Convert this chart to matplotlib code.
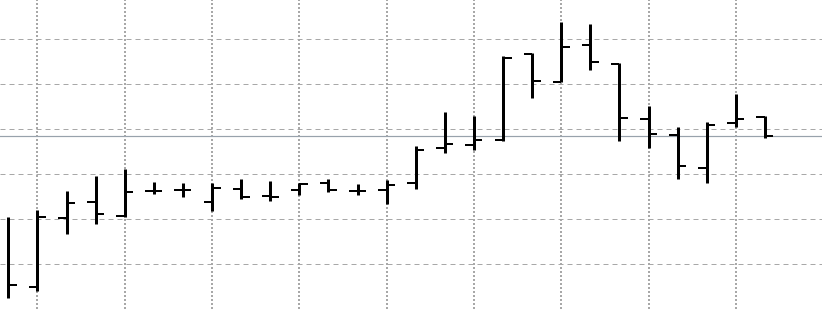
import numpy as np
import matplotlib
matplotlib.use("Agg")
import matplotlib.pyplot as plt

# OHLC data (arbitrary price units)
opens  = [np.nan, 105.0, 120.3, 123.8, 120.7, 126.2, 126.4, 123.7, 126.6, 125.1,
          126.4, 127.9, 126.3, 126.4, 128.1, 135.8, 136.4, 137.6, 156.7, 150.4,
          158.7, 154.4, 142.2, 138.7, 131.4, 141.4, 142.6]
highs  = [120.4, 122.0, 126.2, 129.6, 131.1, 128.2, 127.9, 127.9, 129.0, 128.4,
          127.9, 129.0, 127.7, 128.7, 136.2, 143.8, 143.0, 156.3, 157.0, 163.8,
          163.3, 154.7, 145.2, 140.4, 141.6, 147.8, 142.9]
lows   = [102.4, 104.1, 116.7, 118.9, 120.4, 125.6, 124.9, 121.8, 124.4, 124.0,
          125.3, 126.1, 125.3, 123.3, 126.6, 134.6, 135.3, 137.4, 146.8, 150.4,
          153.1, 137.3, 135.8, 129.0, 127.9, 140.4, 138.1]
closes = [105.3, 120.5, 123.5, 121.1, 125.9, 126.2, 126.4, 126.9, 124.8, 125.0,
          127.7, 126.4, 126.3, 127.6, 135.3, 136.6, 137.6, 155.7, 150.7, 158.3,
          154.8, 142.4, 138.9, 131.8, 140.9, 142.2, 138.4]
price_levels = [110, 120, 130, 140, 150, 160]
time_grid = list(range(1, 27, 3))

x = np.arange(len(highs))
o = np.array(opens, dtype=float)
h = np.array(highs)
l = np.array(lows)
c = np.array(closes)

W, H, DPI = 822, 309, 100
fig = plt.figure(figsize=(W / DPI, H / DPI), dpi=DPI)
ax = fig.add_axes([0, 0, 1, 1])
px = 72 / DPI  # one pixel in points

step_px = 29.1
x0_px = 8.3
ax.set_xlim(-x0_px / step_px, (W - x0_px) / step_px)
ax.set_ylim(100, 100 + H / 4.5)

# grid
for yv in price_levels:
    ax.axhline(yv, color="#a8a8a8", lw=px, linestyle=(0, (5, 4)), zorder=1)
for xv in time_grid:
    ax.axvline(xv, color="#a8a8a8", lw=2 * px, linestyle=(0, (1, 1)), zorder=1)

# current price line
ax.axhline(c[-1], color="#98a2ac", lw=1.2 * px, zorder=1.5)

# OHLC bars
tick = 8.5 / step_px
ax.vlines(x, l, h, color="black", lw=3 * px, zorder=3)
mask = ~np.isnan(o)
ax.hlines(o[mask], x[mask] - tick, x[mask], color="black", lw=2 * px, zorder=3)
ax.hlines(c, x, x + tick, color="black", lw=2 * px, zorder=3)

ax.set_xticks([])
ax.set_yticks([])
for s in ax.spines.values():
    s.set_visible(False)
ax.set_facecolor("white")
fig.patch.set_facecolor("white")

fig.savefig("out.png", dpi=DPI, facecolor="white")
